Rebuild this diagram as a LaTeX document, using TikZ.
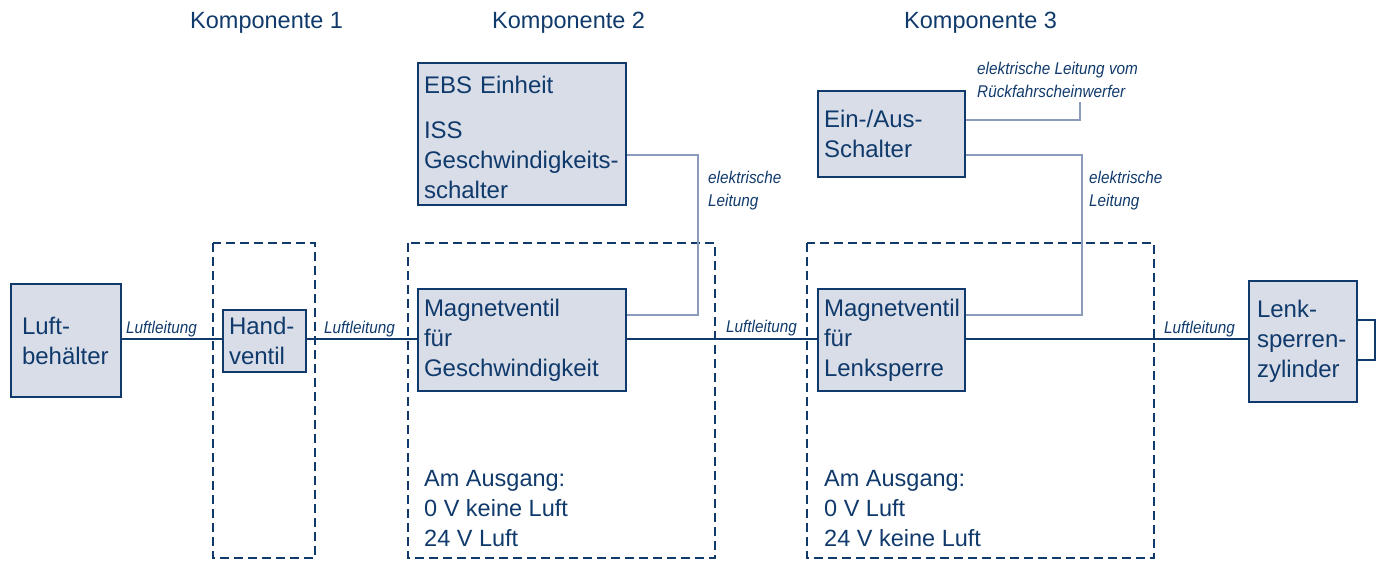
\documentclass[tikz,border=0pt]{standalone}
\usepackage{fontspec}
\setmainfont{Liberation Sans}
\newfontfamily\condit[FakeStretch=0.9]{Liberation Sans Italic}
\hyphenpenalty=10000
\exhyphenpenalty=10000
\definecolor{navy}{HTML}{103A6B}
\definecolor{boxfill}{HTML}{D9DDE8}
\definecolor{elcol}{HTML}{8A9BBD}
\tikzset{
  box/.style={draw=navy, fill=boxfill, line width=2pt, anchor=north west, align=left,
    inner ysep=0pt, text=navy, font=\fontsize{24}{30}\selectfont},
  title/.style={anchor=base west, inner sep=0pt, text=navy, font=\fontsize{23.5}{30}\selectfont},
  plain/.style={anchor=north west, inner sep=0pt, align=left, text=navy, font=\fontsize{23.5}{30}\selectfont},
  lbl/.style={inner sep=0pt, align=left, text=navy, font=\condit\fontsize{17}{23}\selectfont},
  airline/.style={draw=navy, line width=2pt},
  elline/.style={draw=elcol, line width=2pt},
  compbox/.style={draw=navy, line width=2pt, dash pattern=on 9pt off 5pt},
}
\begin{document}
\begin{tikzpicture}[x=1pt,y=-1pt]
\useasboundingbox (0,0) rectangle (1379,560);

% titles
\node[title] (k1) at (190,28) {Komponente 1};
\node[title] (k2) at (492,28) {Komponente 2};
\node[title] (k3) at (904,28) {Komponente 3};

% component (dashed) boxes
\draw[compbox] (213,243) rectangle (315,558);
\draw[compbox] (408,243) rectangle (715,558);
\draw[compbox] (807,243) rectangle (1154,558);

% boxes
\node[box, minimum width=110pt, minimum height=113pt, inner xsep=11pt, text width=88pt] (lb) at (10,283) {Luft-\\behälter};
\node[box, minimum width=83pt, minimum height=62pt, inner xsep=6pt, text width=71pt] (hv) at (222,309) {Hand-\\ventil};
\node[box, minimum width=208pt, minimum height=142pt, inner xsep=6pt, text width=196pt] (ebs) at (417,62) {\rule{0pt}{25pt}EBS Einheit\\[15pt]ISS\\Geschwindigkeits-\\schalter};
\node[box, minimum width=208pt, minimum height=102pt, inner xsep=6pt, text width=196pt] (mv1) at (417,288) {Magnetventil\\für\\Geschwindigkeit};
\node[box, minimum width=147pt, minimum height=86pt, inner xsep=6pt, text width=135pt] (ein) at (817,90) {Ein-/Aus-\\Schalter};
\node[box, minimum width=147pt, minimum height=102pt, inner xsep=6pt, text width=135pt] (mv2) at (817,288) {Magnetventil\\für\\Lenksperre};
\node[box, minimum width=108pt, minimum height=121pt, inner xsep=8pt, text width=92pt] (lz) at (1248,280) {Lenk-\\sperren-\\zylinder};

% cylinder stub
\coordinate (s1) at (1375,320);
\coordinate (s2) at (1375,360);
\draw[airline] (lz.east |- s1) -- (s1) -- (s2) -- (lz.east |- s2);

% air lines
\coordinate (air) at (0,339);
\draw[airline] (lb.east |- air) -- (hv.west |- air);
\draw[airline] (hv.east |- air) -- (mv1.west |- air);
\draw[airline] (mv1.east |- air) -- (mv2.west |- air);
\draw[airline] (mv2.east |- air) -- (lz.west |- air);

\node[lbl, anchor=base west] (l1) at (126,333) {Luftleitung};
\node[lbl, anchor=base west] (l2) at (324,333) {Luftleitung};
\node[lbl, anchor=base west] (l3) at (726,332) {Luftleitung};
\node[lbl, anchor=base west] (l4) at (1164,333) {Luftleitung};

% electric lines
\coordinate (e1) at (698,155);
\coordinate (e2) at (698,315);
\draw[elline] (ebs.east |- e1) -- (e1) -- (e2) -- (mv1.east |- e2);
\node[lbl, anchor=north west] (el1) at (708,170.5) {elektrische\\Leitung};

\coordinate (f1) at (1080,120);
\coordinate (f2) at (1080,102);
\draw[elline] (ein.east |- f1) -- (f1) -- (f2);
\node[lbl, anchor=north west] (el2) at (977,61.5) {elektrische Leitung vom\\Rückfahrscheinwerfer};

\coordinate (g1) at (1082,155);
\coordinate (g2) at (1082,315);
\draw[elline] (ein.east |- g1) -- (g1) -- (g2) -- (mv2.east |- g2);
\node[lbl, anchor=north west] (el3) at (1089,170.5) {elektrische\\Leitung};

% output notes
\node[plain] (o1) at (424,470) {Am Ausgang:\\0 V keine Luft\\24 V Luft};
\node[plain] (o2) at (824,470) {Am Ausgang:\\0 V Luft\\24 V keine Luft};
\end{tikzpicture}
\end{document}
